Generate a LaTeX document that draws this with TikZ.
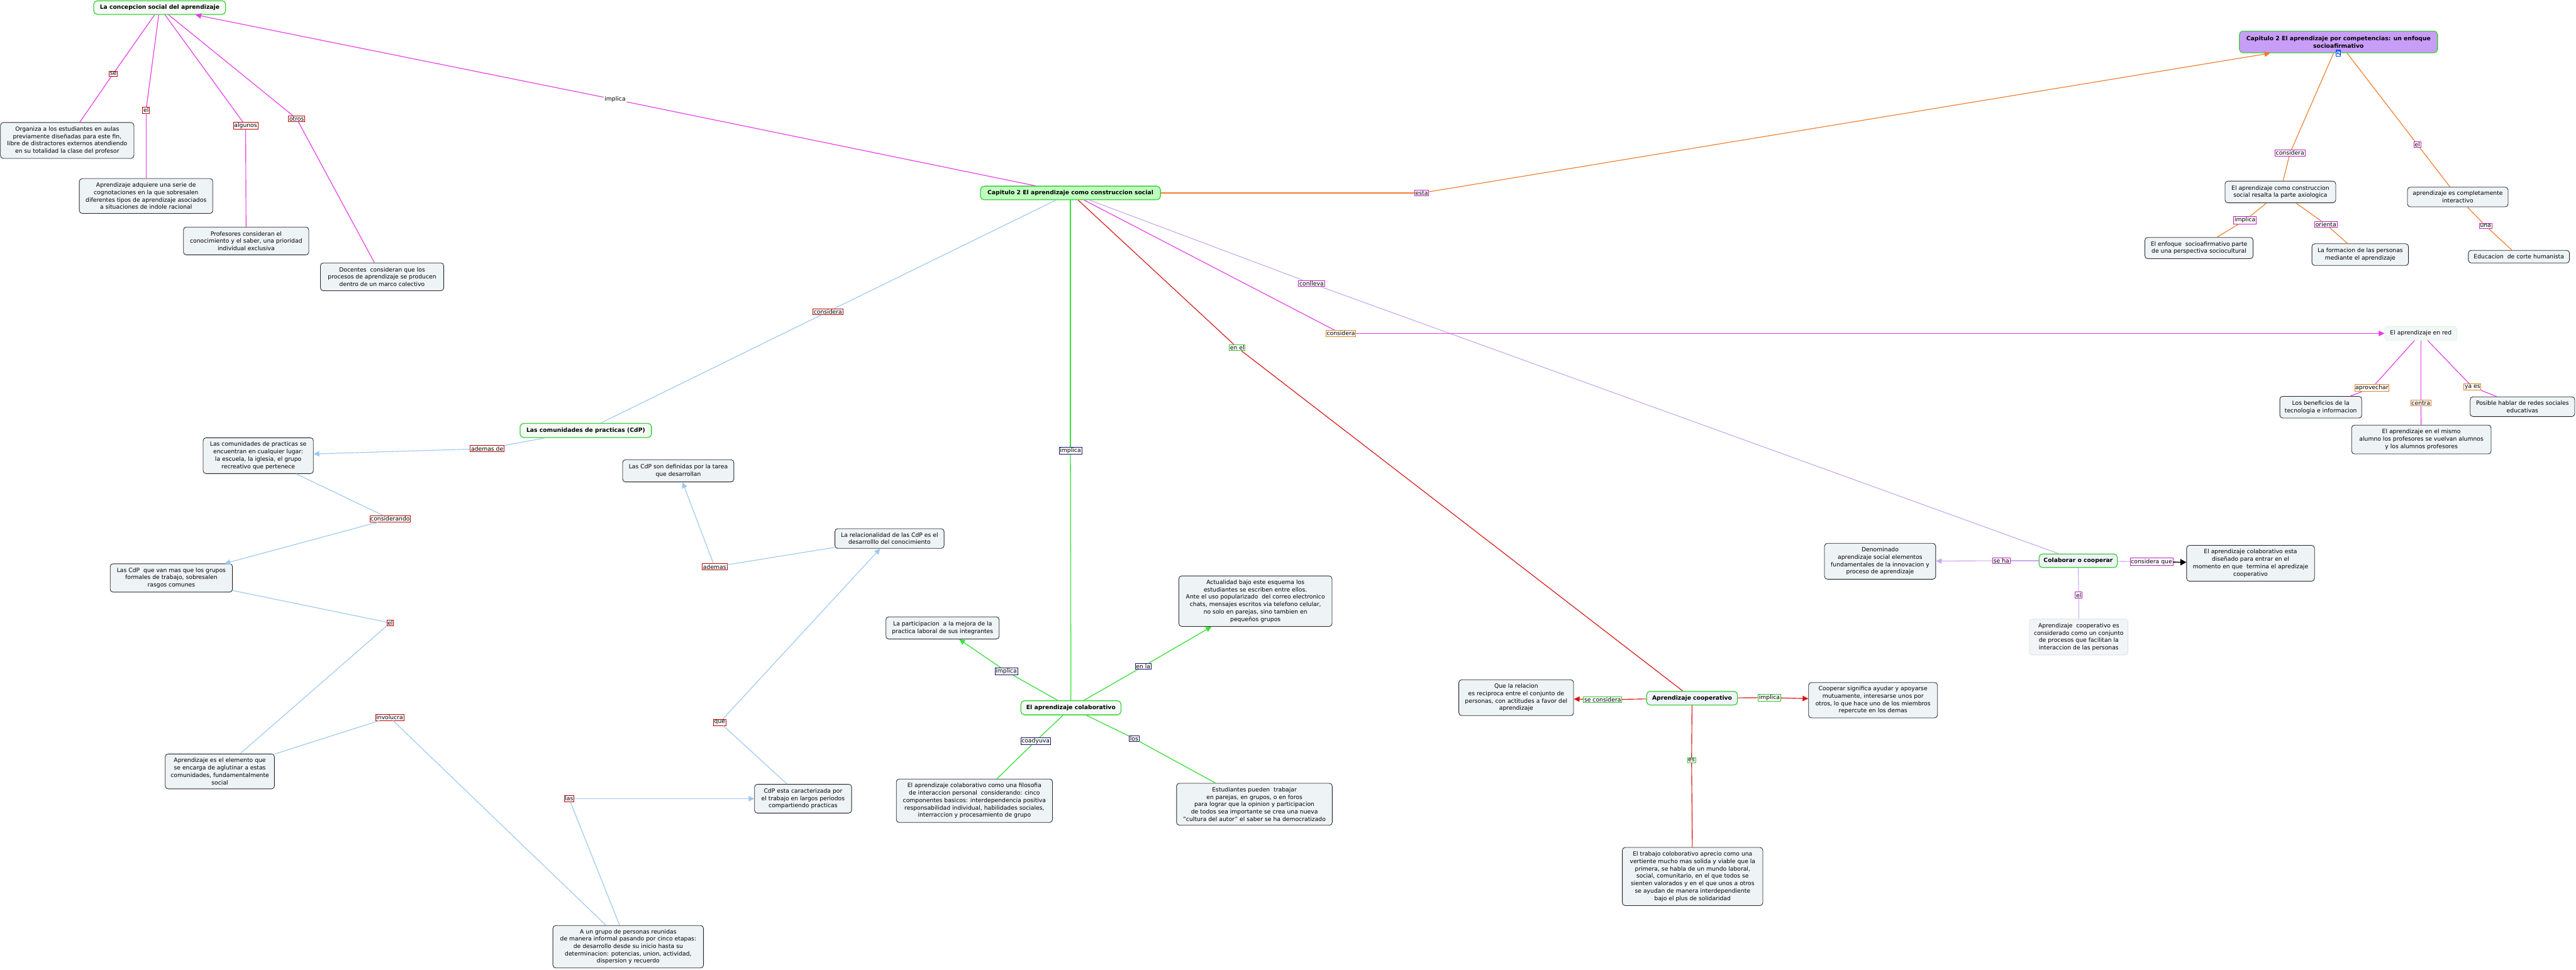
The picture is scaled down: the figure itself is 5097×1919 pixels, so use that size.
\documentclass[tikz,border=0pt]{standalone}
\usepackage{fontspec}
\setmainfont{DejaVu Sans}
\usetikzlibrary{arrows.meta}
\definecolor{cfill}{HTML}{EEF3F6}
\definecolor{mfill}{HTML}{F3FAF3}
\definecolor{cenfill}{HTML}{C0FFC0}
\definecolor{sociofill}{HTML}{C89DF8}
\definecolor{mgreen}{HTML}{3CD03C}
\definecolor{magC}{HTML}{E838E8}
\definecolor{oraC}{HTML}{F07A28}
\definecolor{blueC}{HTML}{9CC8F0}
\definecolor{greenC}{HTML}{38E038}
\definecolor{redC}{HTML}{D81010}
\definecolor{purC}{HTML}{C8A8F0}
\definecolor{lRed}{HTML}{C00000}
\definecolor{lMag}{HTML}{C020C0}
\definecolor{lOra}{HTML}{E08020}
\definecolor{lNavy}{HTML}{101070}
\definecolor{lGreen}{HTML}{30C030}
\tikzset{
  sz/.style 2 args={minimum width=#1*0.01cm, minimum height=#2*0.01cm},
  box/.style={draw=black!85, fill=cfill, rounded corners=1.6pt, align=center, inner sep=0.5pt, line width=0.3pt},
  mainbox/.style={draw=mgreen, fill=mfill, rounded corners=2pt, align=center, inner sep=0.5pt, line width=0.45pt, font=\fontsize{3.27}{4.15}\selectfont\bfseries},
  lbl/.style={fill=white, draw=#1, inner sep=0.45pt, line width=0.3pt},
  lblplain/.style={fill=white, inner sep=0.45pt},
  cmag/.style={draw=magC, line width=0.4pt},
  cora/.style={draw=oraC, line width=0.4pt},
  cblue/.style={draw=blueC, line width=0.4pt},
  cgreen/.style={draw=greenC, line width=0.45pt},
  cred/.style={draw=redC, line width=0.4pt},
  cpur/.style={draw=purC, line width=0.4pt},
  arr/.style={-{Triangle[length=3.2pt,width=3pt]}},
}
\begin{document}
\begin{tikzpicture}[x=0.01cm, y=-0.01cm, font=\fontsize{3.27}{4.15}\selectfont]
\useasboundingbox[fill=white] (0,0) rectangle (5097,1919);

% ---------- main nodes ----------
\node[mainbox, sz={261}{27}] (concep) at (316,15) {La concepcion social del aprendizaje};
\node[mainbox, fill=cenfill, sz={356}{27}] (cen) at (2118,382) {Capitulo 2 El aprendizaje como construccion social};
\node[mainbox, fill=sociofill, sz={392}{43}] (socio) at (4627,83) {Capitulo 2 El aprendizaje por competencias: un enfoque\\socioafirmativo};
\node[draw=blue!70!cyan, fill=white, line width=0.3pt, inner sep=0pt, sz={9}{12}] (icon) at (4626,105) {};
\draw[blue!70!cyan, line width=0.2pt] (4623,100) rectangle (4629,103) (4626,103) -- (4626,106) (4622,106) -- (4630,106) (4622,106) -- (4622,109) (4630,106) -- (4630,109);
\node[mainbox, sz={260}{28}] (cdp) at (1159,852) {Las comunidades de practicas (CdP)};
\node[mainbox, sz={198}{28}] (colv) at (2119,1401) {El aprendizaje colaborativo};
\node[mainbox, fill=cfill, sz={180}{27}] (coop) at (3348,1382) {Aprendizaje cooperativo};
\node[mainbox, fill=cfill, sz={155}{27}] (colab) at (4112,1110) {Colaborar o cooperar};
\node[box, draw=green!20, fill=cfill!70!white, sz={143}{27}] (red) at (4790,660) {El aprendizaje en red};

% ---------- concept boxes ----------
\node[box, sz={264}{71}] (org) at (133,278) {Organiza a los estudiantes en aulas\\previamente diseñadas para este fin,\\libre de distractores externos atendiendo\\en su totalidad la clase del profesor};
\node[box, sz={264}{69}] (adq) at (289,388) {Aprendizaje adquiere una serie de\\cognotaciones en la que sobresalen\\diferentes tipos de aprendizaje asociados\\a situaciones de indole racional};
\node[box, sz={248}{55}] (prof) at (487,477) {Profesores consideran el\\conocimiento y el saber, una prioridad\\individual exclusiva};
\node[box, sz={244}{55}] (doc) at (756,548) {Docentes\ \ consideran que los\\procesos de aprendizaje se producen\\dentro de un marco colectivo};

\node[box, sz={219}{43}] (axio) at (4512,380) {El aprendizaje como construccion\\social resalta la parte axiologica};
\node[box, sz={199}{39}] (inter) at (4863,390) {aprendizaje es completamente\\interactivo};
\node[box, sz={214}{42}] (enf) at (4351,491) {El enfoque\ \ socioafirmativo parte\\de una perspectiva sociocultural};
\node[box, sz={191}{43}] (form) at (4670,504) {La formacion de las personas\\mediante el aprendizaje};
\node[box, sz={200}{25}] (edu) at (4984,508) {Educacion\ \ de corte humanista};
\node[box, sz={162}{43}] (ben) at (4592,806) {Los beneficios de la\\tecnologia e informacion};
\node[box, sz={207}{39}] (pos) at (4991,805) {Posible hablar de redes sociales\\educativas};
\node[box, sz={276}{57}] (mismo) at (4791,870) {El aprendizaje en el mismo\\alumno los profesores se vuelvan alumnos\\y los alumnos profesores};

\node[box, sz={220}{71}] (den) at (3720,1111) {Denominado\\aprendizaje social elementos\\fundamentales de la innovacion y\\proceso de aprendizaje};
\node[box, sz={253}{71}] (dis) at (4453,1115) {El aprendizaje colaborativo esta\\diseñado para entrar en el\\momento en que\ \ termina el apredizaje\\cooperativo};
\node[box, draw=black!12, fill=cfill!80!white, sz={195}{71}] (apcoop) at (4113,1261) {Aprendizaje\ \ cooperativo es\\considerado como un conjunto\\de procesos que facilitan la\\interaccion de las personas};

\node[box, sz={227}{71}] (rel) at (3000,1381) {Que la relacion\\es reciproca entre el conjunto de\\personas, con actitudes a favor del\\aprendizaje};
\node[box, sz={255}{70}] (sig) at (3706,1386) {Cooperar significa ayudar y apoyarse\\mutuamente, interesarse unos por\\otros, lo que hace uno de los miembros\\repercute en los demas};
\node[box, sz={278}{115}] (trab) at (3349,1735) {El trabajo coloborativo aprecio como una\\vertiente mucho mas solida y viable que la\\primera, se habla de un mundo laboral,\\social, comunitario, en el que todos se\\sienten valorados y en el que unos a otros\\se ayudan de manera interdependiente\\bajo el plus de solidaridad};

\node[box, sz={224}{44}] (part) at (1865,1243) {La participacion\ \ a la mejora de la\\practica laboral de sus integrantes};
\node[box, sz={303}{100}] (act) at (2484,1190) {Actualidad bajo este esquema los\\estudiantes se escriben entre ellos.\\Ante el uso popularizado\ \ del correo electronico\\chats, mensajes escritos via telefono celular,\\no solo en parejas, sino tambien en\\pequeños grupos};
\node[box, sz={309}{86}] (fil) at (1928,1585) {El aprendizaje colaborativo como una filosofia\\de interaccion personal\ \ considerando: cinco\\componentes basicos: interdependencia positiva\\responsabilidad individual, habilidades sociales,\\interraccion y procesamiento de grupo};
\node[box, sz={308}{83}] (est) at (2482,1592) {Estudiantes pueden\ \ trabajar\\en parejas, en grupos, o en foros\\para lograr que la opinion y participacion\\de todos sea importante se crea una nueva\\"cultura del autor" el saber se ha democratizado};

\node[box, sz={218}{71}] (enc) at (511,902) {Las comunidades de practicas se\\encuentran en cualquier lugar:\\la escuela, la iglesia, el grupo\\recreativo que pertenece};
\node[box, sz={220}{44}] (def) at (1342,932) {Las CdP son definidas por la tarea\\que desarrollan};
\node[box, sz={216}{39}] (rel2) at (1760,1066) {La relacionalidad de las CdP es el\\desarrolllo del conocimiento};
\node[box, sz={242}{56}] (van) at (339,1144) {Las CdP\ \ que van mas que los grupos\\formales de trabajo, sobresalen\\rasgos comunes};
\node[box, sz={216}{69}] (agl) at (435,1527) {Aprendizaje es el elemento que\\se encarga de aglutinar a estas\\comunidades, fundamentalmente\\social};
\node[box, sz={192}{57}] (car) at (1589,1581) {CdP esta caracterizada por\\el trabajo en largos periodos\\compartiendo practicas};
\node[box, sz={298}{84}] (grp) at (1243,1874) {A un grupo de personas reunidas\\de manera informal pasando por cinco etapas:\\de desarrollo desde su inicio hasta su\\determinacion: potencias, union, actividad,\\dispersion y recuerdo};

% ---------- linking phrases ----------
\node[lbl=lRed] (Lse) at (224,146) {se};
\node[lbl=lRed] (Lel1) at (289,218) {el};
\node[lbl=lRed] (Lalg) at (486,249) {algunos};
\node[lbl=lRed] (Lotros) at (587,235) {otros};
\node[lblplain] (Limp0) at (1217,197) {implica};
\node[lbl=lRed] (Lcons1) at (1638,617) {considera};
\node[lbl=lMag] (Lesta) at (2813,382) {esta};
\node[lbl=lMag] (Lconl) at (2595,561) {conlleva};
\node[lbl=lOra] (Lcons2) at (2653,660) {considera};
\node[lbl=lGreen] (Lenel) at (2448,688) {en el};
\node[lbl=lNavy] (Limp1) at (2118,892) {implica};
\node[lbl=lMag] (Lcs) at (4531,303) {considera};
\node[lbl=lMag] (Lel2) at (4783,286) {el};
\node[lbl=lMag] (Limp2) at (4442,436) {implica};
\node[lbl=lMag] (Lori) at (4602,444) {orienta};
\node[lbl=lMag] (Luna) at (4918,447) {una};
\node[lbl=lOra] (Lapr) at (4693,768) {aprovechar};
\node[lbl=lOra] (Lcen) at (4790,798) {centra};
\node[lbl=lOra] (Lyaes) at (4892,766) {ya es};
\node[lbl=lMag] (Lseha) at (3960,1110) {se ha};
\node[lbl=lMag] (Lcq) at (4257,1112) {considera que};
\node[lbl=lMag] (Lel3) at (4113,1178) {el};
\node[lbl=lGreen] (Lsec) at (3171,1385) {se considera};
\node[lbl=lGreen] (Limp3) at (3501,1381) {implica};
\node[lbl=lGreen] (Les) at (3347,1505) {es};
\node[lbl=lNavy] (Limp4) at (1991,1329) {implica};
\node[lbl=lNavy] (Lenla) at (2262,1319) {en la};
\node[lbl=lNavy] (Lcoad) at (2049,1467) {coadyuva};
\node[lbl=lNavy] (Llos) at (2244,1462) {los};
\node[lbl=lRed] (Ladde) at (964,888) {ademas de};
\node[lbl=lRed] (Lcdo) at (772,1027) {considerando};
\node[lbl=lRed] (Ladem) at (1414,1122) {ademas};
\node[lbl=lRed] (Lel4) at (772,1233) {el};
\node[lbl=lRed] (Linv) at (771,1420) {involucra};
\node[lbl=lRed] (Lque) at (1424,1430) {que};
\node[lbl=lRed] (Llas) at (1126,1581) {las};

% ---------- connectors ----------
\draw[cmag] (cen) -- (Limp0); \draw[cmag,arr] (Limp0) -- (concep);
\draw[cmag] (concep) -- (Lse); \draw[cmag] (Lse) -- (org);
\draw[cmag] (concep) -- (Lel1); \draw[cmag] (Lel1) -- (adq);
\draw[cmag] (concep) -- (Lalg); \draw[cmag] (Lalg) -- (prof);
\draw[cmag] (concep) -- (Lotros); \draw[cmag] (Lotros) -- (doc);

\draw[cblue] (cen) -- (Lcons1); \draw[cblue] (Lcons1) -- (cdp);
\draw[cora] (cen) -- (Lesta); \draw[cora,arr] (Lesta) -- (socio);
\draw[cpur] (cen) -- (Lconl); \draw[cpur] (Lconl) -- (colab);
\draw[cmag] (cen) -- (Lcons2); \draw[cmag,arr] (Lcons2) -- (red);
\draw[cred] (cen) -- (Lenel); \draw[cred] (Lenel) -- (coop);
\draw[cgreen] (cen) -- (Limp1); \draw[cgreen] (Limp1) -- (colv);

\draw[cora] (socio) -- (Lcs); \draw[cora] (Lcs) -- (axio);
\draw[cora] (socio) -- (Lel2); \draw[cora] (Lel2) -- (inter);
\draw[cora] (axio) -- (Limp2); \draw[cora] (Limp2) -- (enf);
\draw[cora] (axio) -- (Lori); \draw[cora] (Lori) -- (form);
\draw[cora] (inter) -- (Luna); \draw[cora] (Luna) -- (edu);

\draw[cmag] (red) -- (Lapr); \draw[cmag] (Lapr) -- (ben);
\draw[cmag] (red) -- (Lcen); \draw[cmag] (Lcen) -- (mismo);
\draw[cmag] (red) -- (Lyaes); \draw[cmag] (Lyaes) -- (pos);

\draw[cpur] (colab) -- (Lseha); \draw[cpur,arr] (Lseha) -- (den);
\draw[cpur] (colab) -- (Lcq); \draw[black, line width=0.5pt, -{Triangle[length=3.4pt,width=3.6pt]}] (Lcq) -- (dis);
\draw[cpur] (colab) -- (Lel3); \draw[cpur] (Lel3) -- (apcoop);

\draw[cred] (coop) -- (Lsec); \draw[cred,arr] (Lsec) -- (rel);
\draw[cred] (coop) -- (Limp3); \draw[cred,arr] (Limp3) -- (sig);
\draw[cred] (coop) -- (Les); \draw[cred] (Les) -- (trab);

\draw[cgreen] (colv) -- (Limp4); \draw[cgreen,arr] (Limp4) -- (part);
\draw[cgreen] (colv) -- (Lenla); \draw[cgreen,arr] (Lenla) -- (act);
\draw[cgreen] (colv) -- (Lcoad); \draw[cgreen] (Lcoad) -- (fil);
\draw[cgreen] (colv) -- (Llos); \draw[cgreen] (Llos) -- (est);

\draw[cblue] (cdp) -- (Ladde); \draw[cblue,arr] (Ladde) -- (enc);
\draw[cblue] (enc) -- (Lcdo); \draw[cblue,arr] (Lcdo) -- (van);
\draw[cblue] (van) -- (Lel4); \draw[cblue] (Lel4) -- (agl);
\draw[cblue] (agl) -- (Linv); \draw[cblue] (Linv) -- (grp);
\draw[cblue] (grp) -- (Llas); \draw[cblue,arr] (Llas) -- (car);
\draw[cblue] (car) -- (Lque); \draw[cblue,arr] (Lque) -- (rel2);
\draw[cblue] (rel2) -- (Ladem); \draw[cblue,arr] (Ladem) -- (def);
\end{tikzpicture}
\end{document}
